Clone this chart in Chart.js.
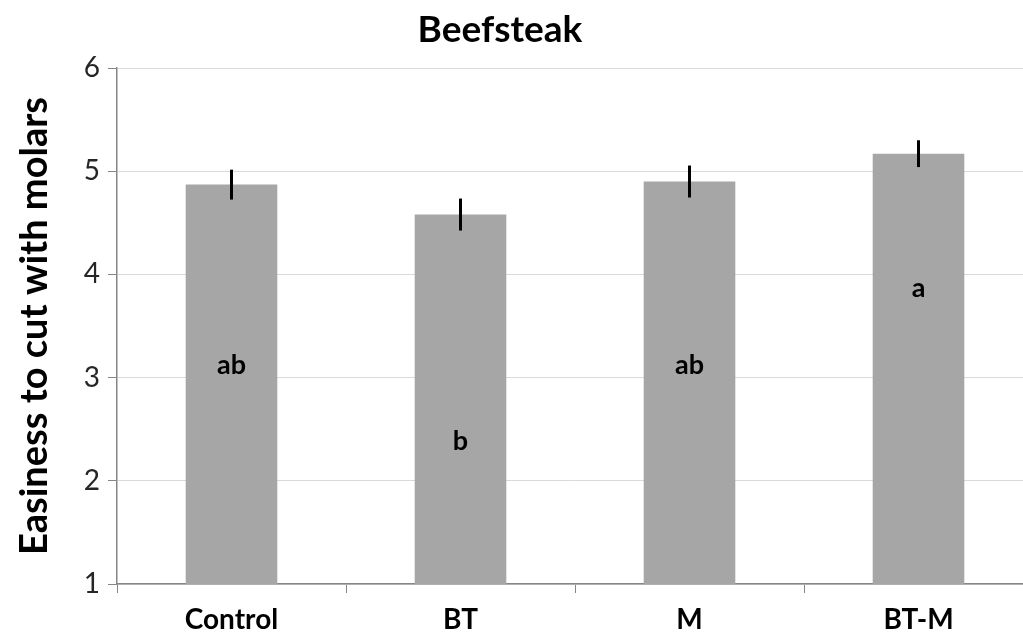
<!DOCTYPE html>
<html>
<head>
<meta charset="utf-8">
<script src="https://cdn.jsdelivr.net/npm/chart.js@4/dist/chart.umd.min.js"></script>
<style>
  html, body { margin:0; padding:0; background:#fff; overflow:hidden; }
  #wrap { width:1033px; height:636px; }
</style>
</head>
<body>
<div id="wrap"><canvas id="barChart"></canvas></div>
<script>
const categories = ['Control', 'BT', 'M', 'BT-M'];
const means = [4.87, 4.58, 4.90, 5.17];
const errors = [0.145, 0.155, 0.155, 0.13];
const letters = ['ab', 'b', 'ab', 'a'];
const letterY = [3.12, 2.38, 3.12, 3.87];
const yTicks = [1, 2, 3, 4, 5, 6];

const FONT = 'Lato, "Open Sans", sans-serif';

const extras = {
  id: 'extras',
  afterDatasetsDraw(chart) {
    const ctx = chart.ctx, x = chart.scales.x, y = chart.scales.y;
    ctx.save();
    // error bars
    ctx.strokeStyle = '#000';
    ctx.lineWidth = 3;
    means.forEach((m, i) => {
      const px = x.getPixelForValue(i);
      ctx.beginPath();
      ctx.moveTo(px, y.getPixelForValue(m + errors[i]));
      ctx.lineTo(px, y.getPixelForValue(m - errors[i]));
      ctx.stroke();
    });
    // significance letters
    ctx.fillStyle = '#000';
    ctx.font = 'bold 27px ' + FONT;
    ctx.textAlign = 'center';
    ctx.textBaseline = 'middle';
    letters.forEach((t, i) => {
      ctx.fillText(t, x.getPixelForValue(i), y.getPixelForValue(letterY[i]));
    });
    // title
    ctx.font = 'bold 37px ' + FONT;
    ctx.fillText('Beefsteak', 500, 30);
    ctx.restore();
  }
};

new Chart(document.getElementById('barChart').getContext('2d'), {
  type: 'bar',
  data: {
    labels: categories,
    datasets: [{ data: means, backgroundColor: '#a6a6a6', categoryPercentage: 1, barPercentage: 0.4 }]
  },
  options: {
    responsive: true,
    maintainAspectRatio: false,
    animation: false,
    layout: { padding: { top: 68, right: 0, bottom: 0, left: 0 } },
    plugins: { legend: { display: false }, tooltip: { enabled: false } },
    scales: {
      x: {
        grid: { drawOnChartArea: false, tickLength: 9, tickColor: '#868686', offset: true },
        border: { color: '#868686', width: 1.5 },
        ticks: { color: '#000', font: { family: FONT, size: 28, weight: 'bold' }, padding: 10 },
        afterFit: s => { s.height = 52; }
      },
      y: {
        min: 1, max: 6,
        afterBuildTicks: s => { s.ticks = yTicks.map(v => ({ value: v })); },
        grid: { color: '#d9d9d9', tickColor: '#868686', tickLength: 9 },
        border: { color: '#868686', width: 1.5 },
        ticks: { color: '#262626', font: { family: FONT, size: 28 }, padding: 8 },
        title: { display: true, text: 'Easiness to cut with molars', color: '#000',
                 font: { family: FONT, size: 38, weight: 'bold' }, padding: { top: 12, bottom: 0 } },
        afterFit: s => { s.width = 117; }
      }
    }
  },
  plugins: [extras]
});
</script>
</body>
</html>
